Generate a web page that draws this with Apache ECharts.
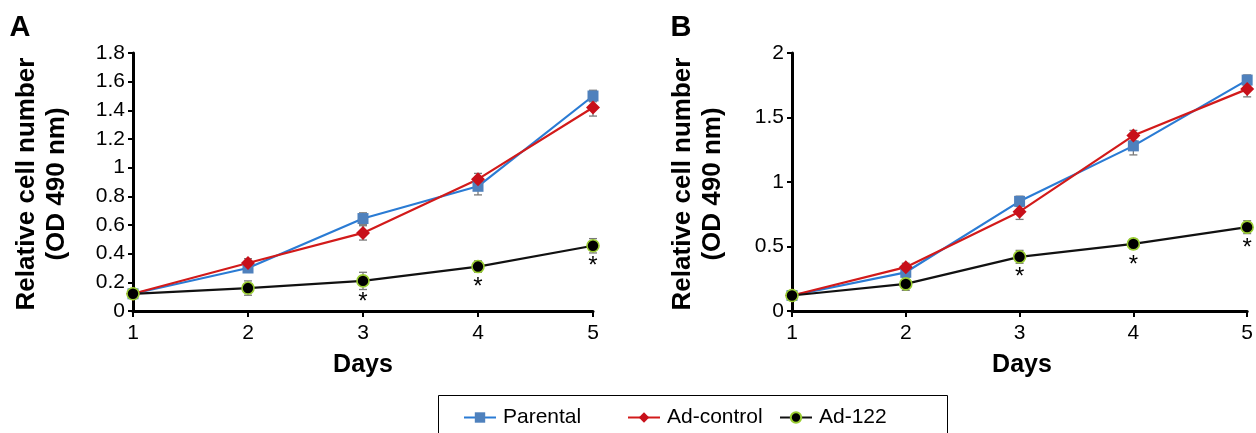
<!DOCTYPE html>
<html><head><meta charset="utf-8">
<script src="https://cdn.jsdelivr.net/npm/echarts@6/dist/echarts.min.js"></script>
<style>html,body{margin:0;padding:0;background:#fff}#c{width:1256px;height:433px}</style>
</head><body><div id="c"></div>
<script>
const days = [1, 2, 3, 4, 5];
const seriesNames = ['Parental', 'Ad-control', 'Ad-122'];
// Panel A
const aParental = [0.12, 0.30, 0.645, 0.87, 1.50];
const aParentalErr = [0.02, 0.03, 0.04, 0.06, 0.04];
const aControl = [0.12, 0.335, 0.545, 0.92, 1.42];
const aControlErr = [0.02, 0.03, 0.05, 0.04, 0.06];
const a122 = [0.12, 0.16, 0.21, 0.31, 0.455];
const a122Err = [0.02, 0.05, 0.06, 0.04, 0.05];
const aSig = [0, 0, 1, 1, 1];
// Panel B
const bParental = [0.12, 0.30, 0.85, 1.28, 1.79];
const bParentalErr = [0.02, 0.03, 0.04, 0.07, 0.04];
const bControl = [0.12, 0.34, 0.77, 1.36, 1.72];
const bControlErr = [0.02, 0.03, 0.06, 0.04, 0.06];
const b122 = [0.12, 0.21, 0.42, 0.52, 0.65];
const b122Err = [0.02, 0.05, 0.05, 0.04, 0.05];
const bSig = [0, 0, 1, 1, 1];
const aYTicks = {min: 0, max: 1.8, interval: 0.2};
const bYTicks = {min: 0, max: 2, interval: 0.5};

const FONT = '"Liberation Sans", Arial, sans-serif';
const lineColors = ['#2a7bd4', '#d21a1a', '#111111'];
const markerColors = ['#4f81bd', '#c8101a', '#000000'];
const markerBorders = ['#4f81bd', '#c8101a', '#9acd32'];
const symbols = ['rect', 'diamond', 'circle'];
const symbolSizes = [11, 14, 12];

function pairs(v) { return days.map((d, i) => [d, v[i]]); }
function errData(v, e) { return days.map((d, i) => [d, v[i], e[i]]); }

function errorSeries(gi, v, e) {
  return {
    type: 'custom', xAxisIndex: gi, yAxisIndex: gi, z: 3, silent: true,
    data: errData(v, e),
    renderItem: function (params, api) {
      const x = api.value(0), y = api.value(1), er = api.value(2);
      const top = api.coord([x, y + er]);
      const bot = api.coord([x, y - er]);
      const w = 4;
      const st = {stroke: '#7a7a7a', lineWidth: 1.3};
      return {type: 'group', children: [
        {type: 'line', shape: {x1: top[0], y1: top[1], x2: bot[0], y2: bot[1]}, style: st},
        {type: 'line', shape: {x1: top[0] - w, y1: top[1], x2: top[0] + w, y2: top[1]}, style: st},
        {type: 'line', shape: {x1: bot[0] - w, y1: bot[1], x2: bot[0] + w, y2: bot[1]}, style: st}
      ]};
    }
  };
}

function sigSeries(gi, v, sig) {
  return {
    type: 'custom', xAxisIndex: gi, yAxisIndex: gi, z: 6, silent: true,
    data: days.map((d, i) => [d, v[i], sig[i]]).filter(p => p[2]),
    renderItem: function (params, api) {
      const p = api.coord([api.value(0), api.value(1)]);
      return {type: 'text', x: p[0], y: p[1] + 21,
        style: {text: '*', font: '24px ' + FONT, fill: '#000', align: 'center', verticalAlign: 'middle'}};
    }
  };
}

function lineSeries(gi, k, v) {
  return {
    name: seriesNames[k], type: 'line', xAxisIndex: gi, yAxisIndex: gi,
    data: pairs(v), z: 4 + (k === 2 ? 1 : 0),
    symbol: symbols[k], symbolSize: symbolSizes[k],
    lineStyle: {color: lineColors[k], width: 2.2},
    itemStyle: {color: markerColors[k], borderColor: markerBorders[k], borderWidth: k === 2 ? 1.6 : 0},
    emphasis: {disabled: true}, animation: false
  };
}

function xAxis(gi) {
  return {
    gridIndex: gi, type: 'value', min: 1, max: 5, interval: 1,
    axisLine: {lineStyle: {color: '#000', width: 3}},
    axisTick: {lineStyle: {color: '#000', width: 2}, length: 6},
    axisLabel: {color: '#000', fontSize: 21, fontFamily: FONT, margin: 12},
    splitLine: {show: false}
  };
}
function yAxis(gi, t) {
  return {
    gridIndex: gi, type: 'value', min: t.min, max: t.max, interval: t.interval,
    axisLine: {show: true, lineStyle: {color: '#000', width: 3}},
    axisTick: {show: true, lineStyle: {color: '#000', width: 2}, length: 5},
    axisLabel: {color: '#000', fontSize: 21, fontFamily: FONT, margin: 8},
    splitLine: {show: false}
  };
}

function textG(x, y, text, size, bold, rot, lh) {
  return {type: 'text', x: x, y: y, rotation: rot || 0,
    style: {text: text, font: (bold ? 'bold ' : '') + size + 'px ' + FONT, fill: '#000',
      align: 'center', verticalAlign: 'middle', lineHeight: lh || size * 1.2}};
}

function legendItem(k, left) {
  return {
    data: [seriesNames[k]], left: left, top: 407, padding: 0, itemWidth: 32, itemHeight: 13,
    itemGap: 10, textStyle: {fontSize: 21, fontFamily: FONT, color: '#000', padding: [0, 0, 0, 2]},
    selectedMode: false
  };
}

const chart = echarts.init(document.getElementById('c'), null, {renderer: 'canvas'});
chart.setOption({
  animation: false,
  backgroundColor: '#fff',
  grid: [
    {left: 133, top: 53, width: 460, height: 258},
    {left: 792, top: 53, width: 460, height: 258}
  ],
  xAxis: [xAxis(0), xAxis(1)],
  yAxis: [yAxis(0, aYTicks), yAxis(1, bYTicks)],
  legend: [legendItem(0, 463), legendItem(1, 627), legendItem(2, 779)],
  graphic: [
    {type: 'rect', shape: {x: 438.5, y: 395.5, width: 509, height: 50}, style: {fill: 'none', stroke: '#000', lineWidth: 1}},
    textG(20, 28, 'A', 29, true),
    textG(681, 28, 'B', 29, true),
    textG(42, 184, 'Relative cell number\n(OD 490 nm)', 26, true, Math.PI / 2, 30),
    textG(698, 184, 'Relative cell number\n(OD 490 nm)', 26, true, Math.PI / 2, 30),
    textG(363, 365, 'Days', 25, true),
    textG(1022, 365, 'Days', 25, true)
  ],
  series: [
    errorSeries(0, aParental, aParentalErr),
    errorSeries(0, aControl, aControlErr),
    errorSeries(0, a122, a122Err),
    lineSeries(0, 0, aParental),
    lineSeries(0, 1, aControl),
    lineSeries(0, 2, a122),
    sigSeries(0, a122, aSig),
    errorSeries(1, bParental, bParentalErr),
    errorSeries(1, bControl, bControlErr),
    errorSeries(1, b122, b122Err),
    lineSeries(1, 0, bParental),
    lineSeries(1, 1, bControl),
    lineSeries(1, 2, b122),
    sigSeries(1, b122, bSig)
  ]
});
</script></body></html>
